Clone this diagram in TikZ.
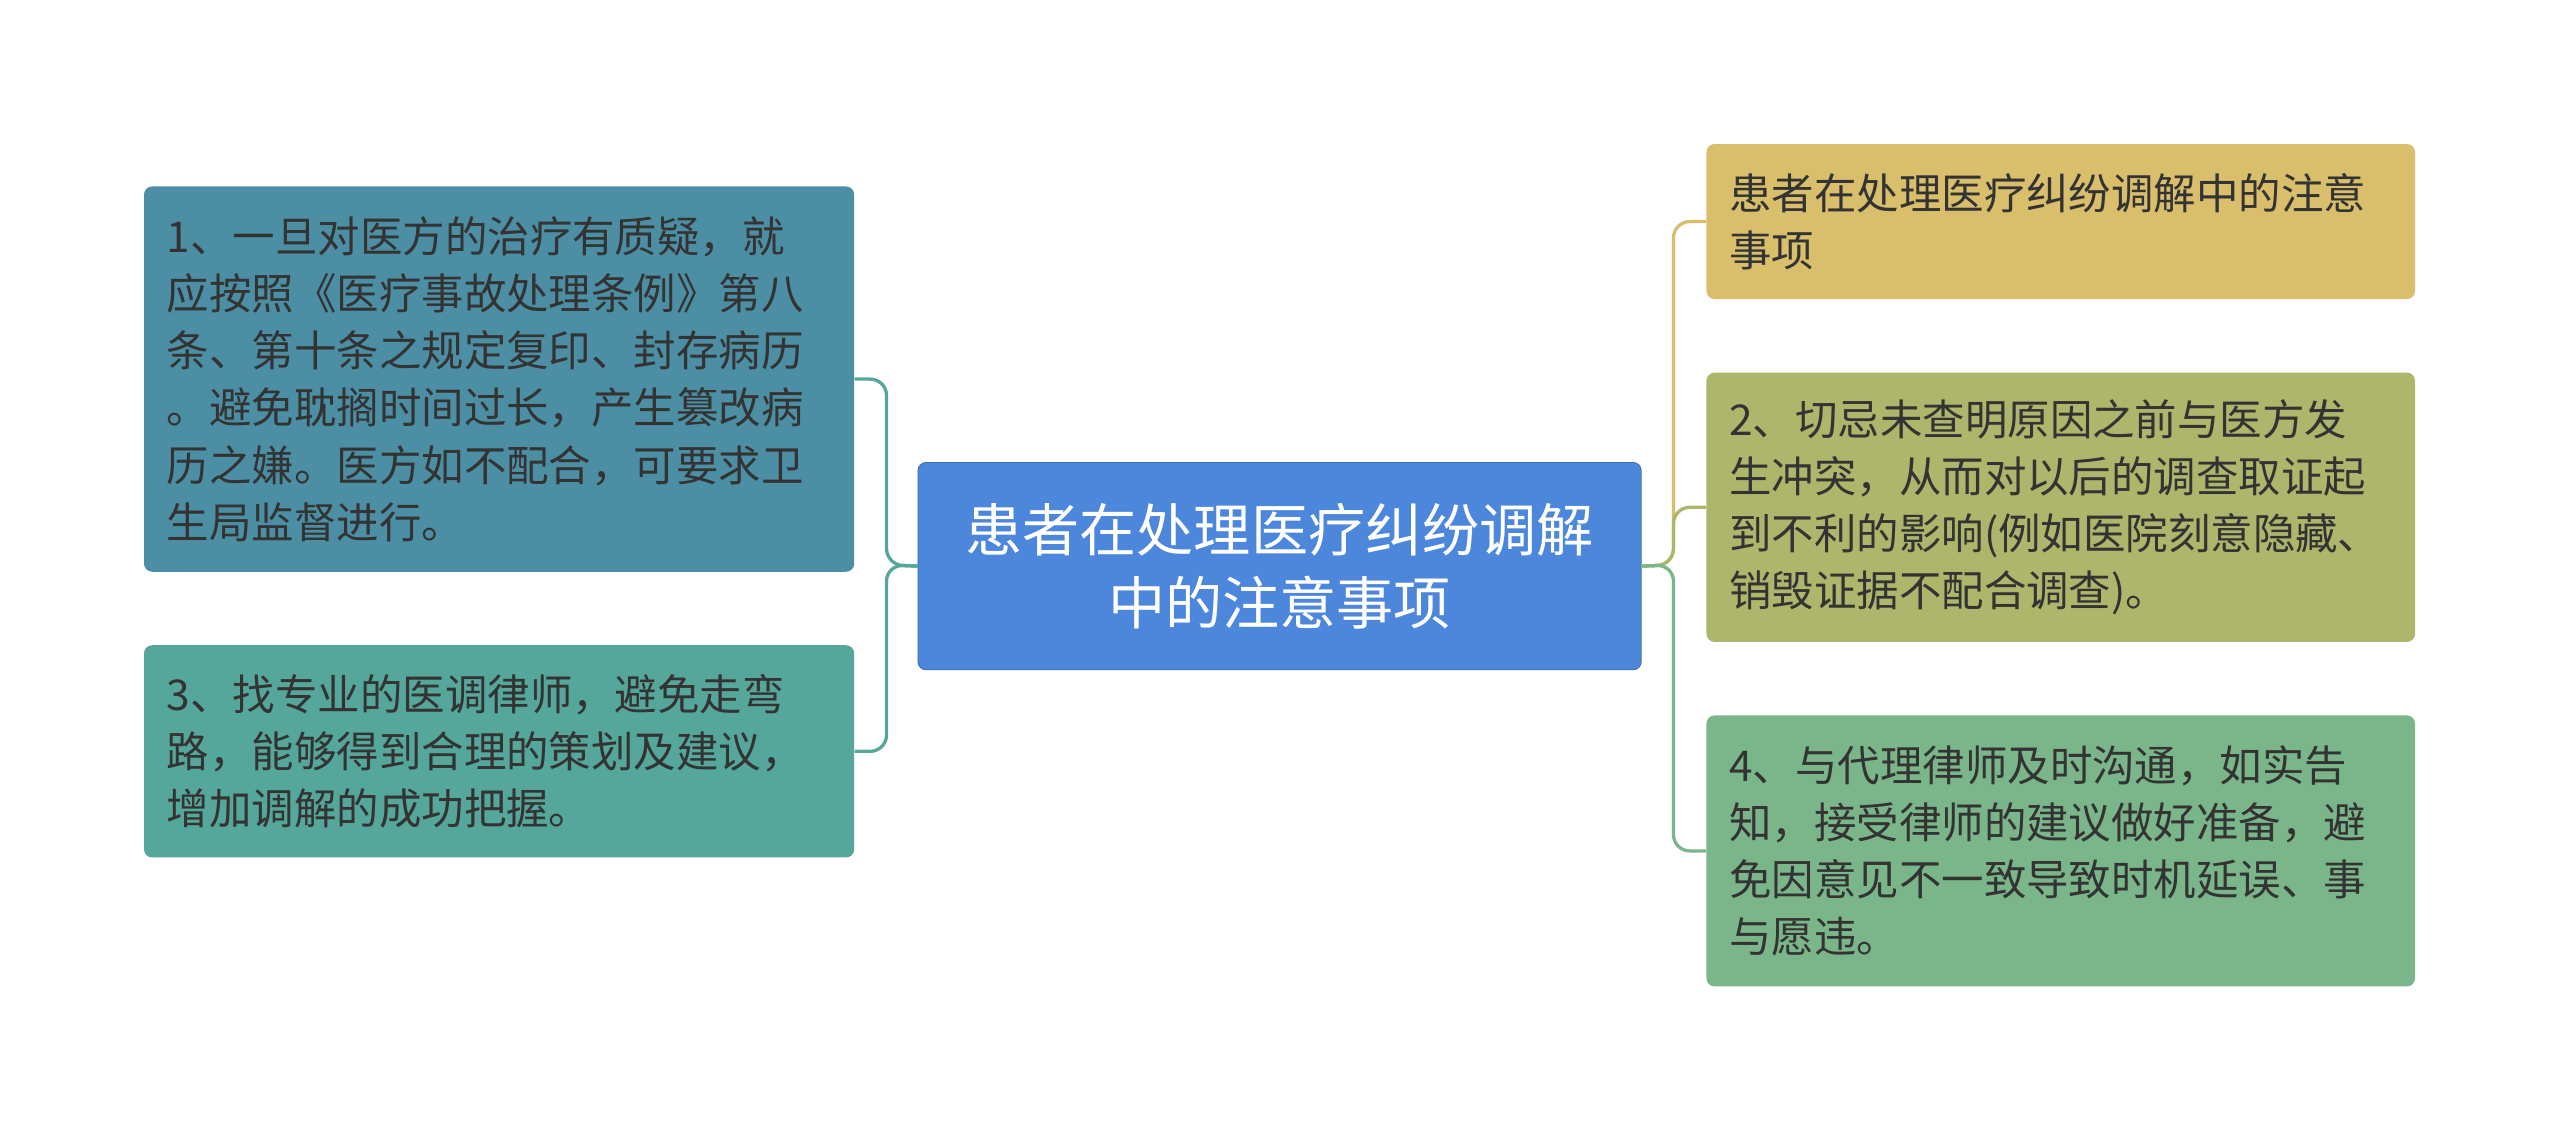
\documentclass[tikz,border=0pt]{standalone}
\usepackage{fontspec}
\setmainfont{Noto Sans CJK SC}
\begin{document}
\begin{tikzpicture}[x=1pt,y=-1pt,
  box/.style={rounded corners=5pt,draw=none,inner sep=0pt,anchor=north west},
  txt/.style={font=\fontsize{26}{35}\selectfont,text=black!80,align=left,anchor=west,inner sep=0pt},
  con/.style={line width=2pt,rounded corners=10pt}]
\useasboundingbox[fill=white] (0,0) rectangle (1568,693);
\definecolor{cb}{HTML}{4D87DB}
\definecolor{l1}{HTML}{4C8FA4}
\definecolor{l3}{HTML}{55A79B}
\definecolor{r1}{HTML}{D9BF6B}
\definecolor{r2}{HTML}{ADB66B}
\definecolor{r4}{HTML}{7BB68A}
% boxes
\node[box,fill=cb,minimum width=443,minimum height=127,draw=cb!80!black,line width=0.5pt] (c) at (562,283) {};
\node[font=\fontsize{35}{45}\selectfont,text=white,align=center] (ct) at (c.center) {患者在处理医疗纠纷调解\\中的注意事项};
\node[box,fill=l1,minimum width=435,minimum height=236] (b1) at (88,114) {};
\node[txt] (t1) at ([xshift=14]b1.west) {1、一旦对医方的治疗有质疑，就\\应按照《医疗事故处理条例》第八\\条、第十条之规定复印、封存病历\\。避免耽搁时间过长，产生篡改病\\历之嫌。医方如不配合，可要求卫\\生局监督进行。};
\node[box,fill=l3,minimum width=435,minimum height=130] (b3) at (88,395) {};
\node[txt] (t3) at ([xshift=14]b3.west) {3、找专业的医调律师，避免走弯\\路，能够得到合理的策划及建议，\\增加调解的成功把握。};
\node[box,fill=r1,minimum width=434,minimum height=95] (r1b) at (1045,88) {};
\node[txt] (tr1) at ([xshift=14]r1b.west) {患者在处理医疗纠纷调解中的注意\\事项};
\node[box,fill=r2,minimum width=434,minimum height=165] (r2b) at (1045,228) {};
\node[txt] (tr2) at ([xshift=14]r2b.west) {2、切忌未查明原因之前与医方发\\生冲突，从而对以后的调查取证起\\到不利的影响(例如医院刻意隐藏、\\销毁证据不配合调查)。};
\node[box,fill=r4,minimum width=434,minimum height=166] (r4b) at (1045,438) {};
\node[txt] (tr4) at ([xshift=14]r4b.west) {4、与代理律师及时沟通，如实告\\知，接受律师的建议做好准备，避\\免因意见不一致导致时机延误、事\\与愿违。};
% connectors
\coordinate (jl) at (543,346);
\coordinate (jr) at (1025,346);
\draw[con,draw=l3] (c.west) -- (jl) |- (b1.east);
\draw[con,draw=l3] (c.west) -- (jl) |- (b3.east);
\draw[con,draw=r1] (c.east) -- (jr) |- (r1b.west);
\draw[con,draw=r2] (c.east) -- (jr) |- (r2b.west);
\draw[con,draw=r4] (c.east) -- (jr) |- (r4b.west);
\end{tikzpicture}
\end{document}
